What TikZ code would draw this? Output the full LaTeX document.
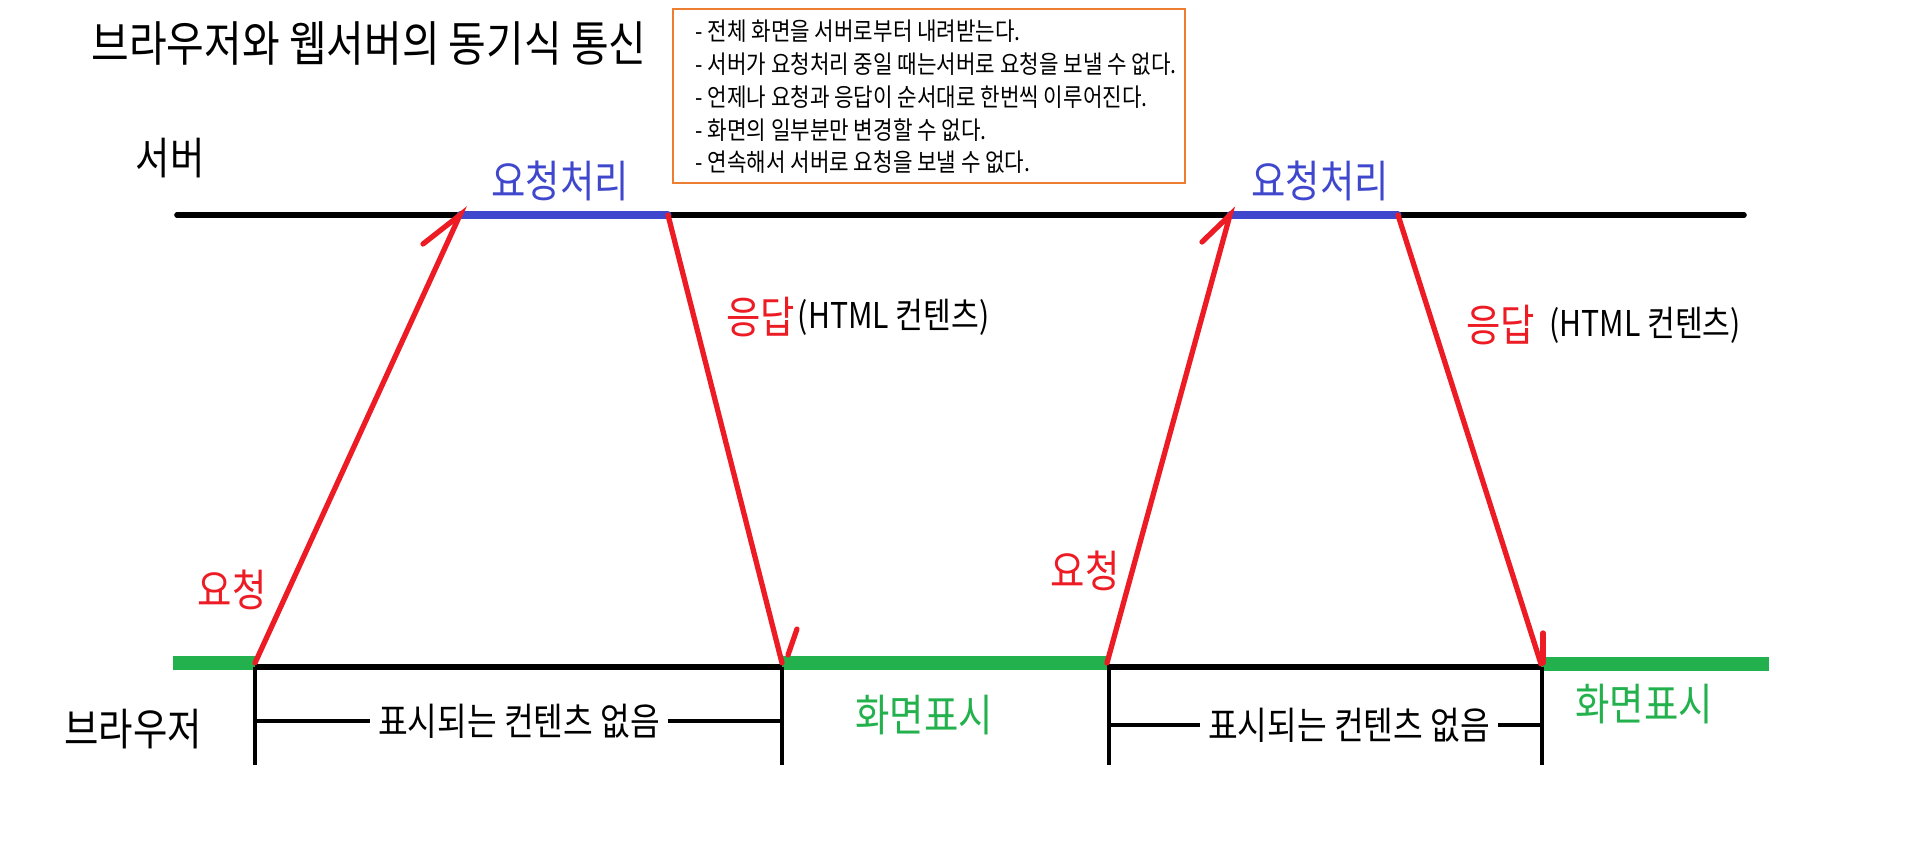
\documentclass[tikz,border=0pt]{standalone}
\usepackage{fontspec}
\setmainfont{Noto Sans CJK KR}[FakeStretch=0.85]
\usetikzlibrary{positioning}
\definecolor{reqred}{HTML}{ED1C24}
\definecolor{procblue}{HTML}{3F48CC}
\definecolor{showgreen}{HTML}{22B14C}
\definecolor{boxorange}{HTML}{ED7D31}
\newcommand{\labelfont}{\fontsize{12.5}{14}\selectfont}
\begin{document}
\begin{tikzpicture}[x=0.01cm,y=-0.01cm,
  lane/.style={line width=1.6pt,line cap=round},
  tick/.style={line width=1.2pt},
  msg/.style={draw=reqred,line width=1.5pt,line cap=round},
  busy/.style={draw=procblue,line width=2pt,line cap=round},
  shown/.style={draw=showgreen,line width=3.9pt},
  lbl/.style={font=\labelfont,inner sep=1pt}]
\useasboundingbox (0,0) rectangle (1905,861);
%title and notes
\node[font=\fontsize{13.7}{15}\selectfont] (title) at (369,43) {브라우저와 웹서버의 동기식 통신};
\draw[boxorange,line width=0.45pt] (673,9) rectangle (1185,183);
\node[anchor=west,align=left,inner sep=0pt,font=\fontsize{7.1}{9.3}\selectfont] (notes) at (695,97)
  {- 전체 화면을 서버로부터 내려받는다.\\
   - 서버가 요청처리 중일 때는서버로 요청을 보낼 수 없다.\\
   - 언제나 요청과 응답이 순서대로 한번씩 이루어진다.\\
   - 화면의 일부분만 변경할 수 없다.\\
   - 연속해서 서버로 요청을 보낼 수 없다.};
%lane names
\node[lbl] (server) at (170,158) {서버};
\node[lbl] (browser) at (133,729) {브라우저};
%points on the lanes
\coordinate (s0) at (177,215); \coordinate (s1) at (1744,215);
\coordinate (b0) at (180,667); \coordinate (b1) at (1542,667);
\coordinate (g0) at (173,663);
\coordinate (q1) at (255,663); \coordinate (p1a) at (460,215); \coordinate (p1b) at (668,215); \coordinate (r1) at (782,663);
\coordinate (q2) at (1107,663); \coordinate (p2a) at (1230,215); \coordinate (p2b) at (1398,215); \coordinate (r2) at (1541,664);
\coordinate (g3) at (1769,664);
%server and browser lanes
\draw[lane] (s0) -- (s1);
\draw[lane,line cap=butt] (b0) -- (b1);
\draw[busy] (p1a) -- (p1b);
\draw[busy] (p2a) -- (p2b);
\draw[shown] (g0) -- (q1);
\draw[shown] (r1) -- (q2);
\draw[shown] (r2) -- (g3);
%ticks below the browser
\foreach \t/\x in {t1/255,t2/782,t3/1109,t4/1542}{
  \coordinate (\t top) at (\x,667); \coordinate (\t bot) at (\x,765);
  \draw[tick] (\t top) -- (\t bot);}
\node[font=\fontsize{10.8}{12}\selectfont,inner xsep=2pt] (empty1) at (519,721) {표시되는 컨텐츠 없음};
\node[font=\fontsize{10.8}{12}\selectfont,inner xsep=2pt] (empty2) at (1349,725) {표시되는 컨텐츠 없음};
\draw[tick] (t1top |- empty1) -- (empty1.west); \draw[tick] (empty1.east) -- (t2top |- empty1);
\draw[tick] (t3top |- empty2) -- (empty2.west); \draw[tick] (empty2.east) -- (t4top |- empty2);
%requests and responses
\draw[msg] (q1) -- (p1a) -- (423,244);
\draw[msg] (p1b) -- (r1); \draw[msg] (788,655) -- (797,629);
\draw[msg] (q2) -- (p2a) -- (1202,242);
\draw[msg] (p2b) -- (r2); \draw[msg] (1543,663) -- (1543,633);
%labels
\node[lbl,text=reqred] (req1) at (232,590) {요청};
\node[lbl,text=reqred] (req2) at (1085,571) {요청};
\node[lbl,text=procblue] (proc1) at (560,181) {요청처리};
\node[lbl,text=procblue] (proc2) at (1320,181) {요청처리};
\node[lbl,text=reqred,anchor=west] (resp1) at (722,317) {응답};
\node[font=\fontsize{10.1}{11}\selectfont,inner sep=0pt,right=-0.02cm of resp1] (html1) {(HTML 컨텐츠)};
\node[lbl,text=reqred,anchor=west] (resp2) at (1462,325) {응답};
\node[font=\fontsize{10.1}{11}\selectfont,inner sep=1pt,right=0.06cm of resp2] (html2) {(HTML 컨텐츠)};
\node[lbl,text=showgreen] (show1) at (924,715) {화면표시};
\node[lbl,text=showgreen] (show2) at (1644,704) {화면표시};
\end{tikzpicture}
\end{document}
